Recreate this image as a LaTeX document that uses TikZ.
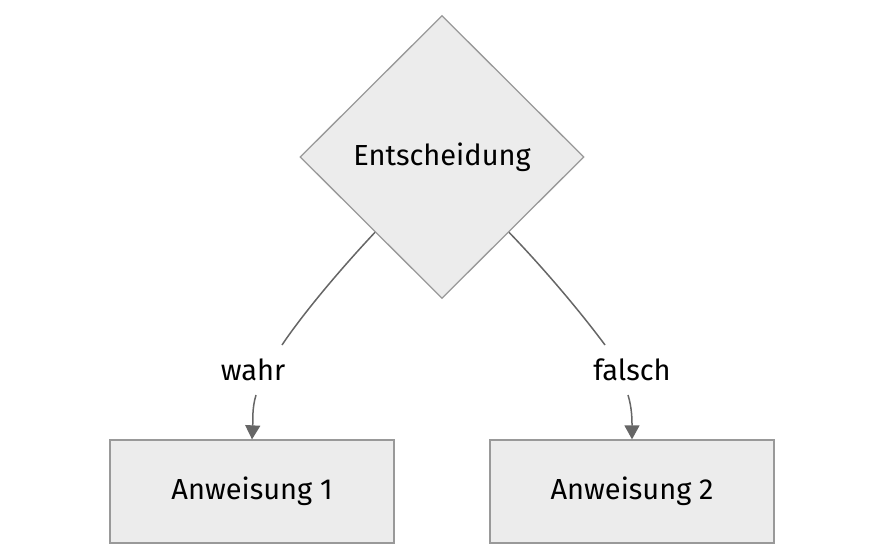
\documentclass[tikz,border=0pt]{standalone}
\usepackage{fontspec}
\setmainfont{Fira Sans}
\usetikzlibrary{shapes.geometric,arrows.meta,calc}
\definecolor{nodefill}{HTML}{ECECEC}
\definecolor{nodeline}{HTML}{999999}
\definecolor{edgeline}{HTML}{666666}
\tikzset{
  decision/.style={diamond, draw=nodeline, fill=nodefill, line width=1.3pt, inner sep=0pt, minimum width=284pt, minimum height=283pt, font=\fontsize{29}{34}\selectfont},
  stmt/.style={rectangle, draw=nodeline, fill=nodefill, line width=1.3pt, minimum width=284pt, minimum height=103pt, inner sep=0pt, font=\fontsize{29}{34}\selectfont},
  elabel/.style={inner sep=0pt, font=\fontsize{29}{34}\selectfont},
  edge/.style={draw=edgeline, line width=1.5pt},
  tip/.style={-{Triangle[length=14pt,width=15pt]}}
}
\begin{document}
\begin{tikzpicture}[x=1pt,y=-1pt]
\useasboundingbox (0,0) rectangle (885,559);
\node[decision] (d) at (442,157) {Entscheidung};
\node[stmt] (a1) at (252,491.5) {Anweisung 1};
\node[stmt] (a2) at (632,491.5) {Anweisung 2};
\node[elabel] (lw) at (253,370) {wahr};
\node[elabel] (lf) at (632,370) {falsch};
\coordinate (s1) at ($(d.west)!0.53!(d.south)$);
\coordinate (s2) at ($(d.east)!0.53!(d.south)$);
\coordinate (e1) at (282,345);
\coordinate (e2) at (605,345);
\coordinate (b1) at (256,395);
\coordinate (b2) at (628,395);
\draw[edge] (s1) .. controls (335,275) and (300,318) .. (e1);
\draw[edge] (s2) .. controls (550,275) and (585,318) .. (e2);
\draw[edge,tip] (b1) .. controls (252,408) and (253,420) .. (a1.north);
\draw[edge,tip] (b2) .. controls (632,408) and (632,420) .. (a2.north);
\end{tikzpicture}
\end{document}
